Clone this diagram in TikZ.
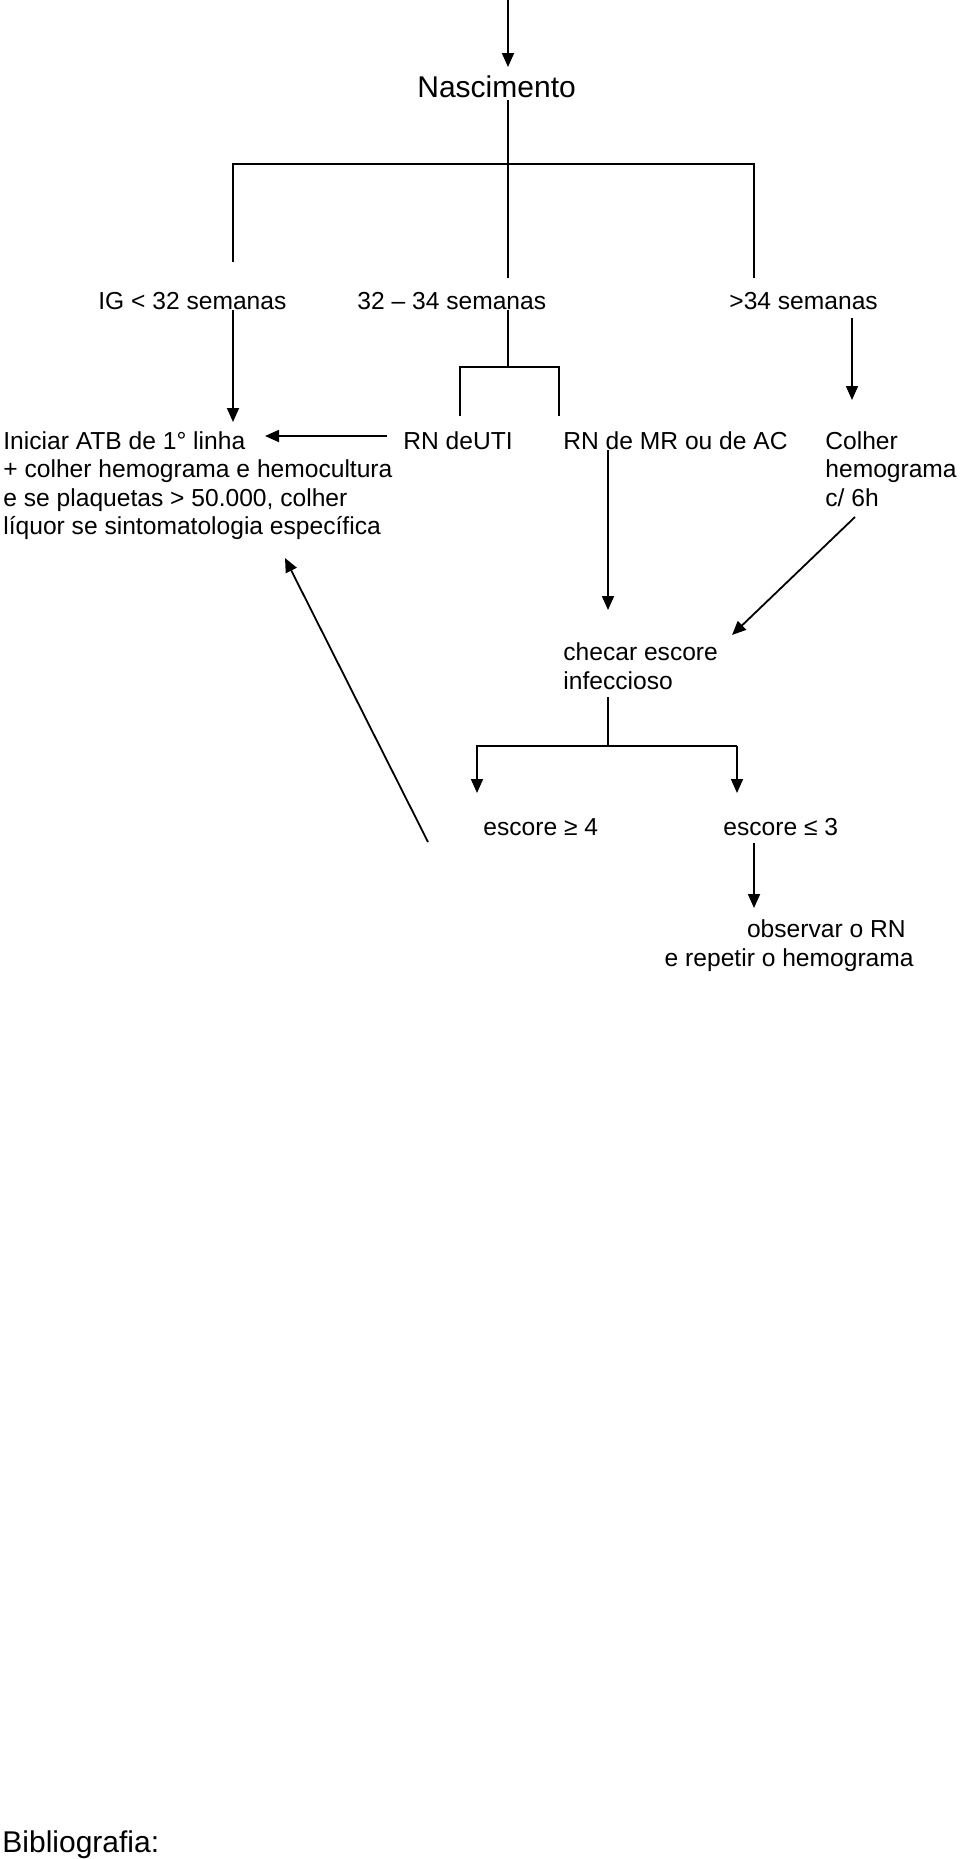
\documentclass[tikz,border=0pt]{standalone}
\usepackage{fontspec}
\setmainfont{Liberation Sans}
\usetikzlibrary{arrows.meta}

\begin{document}
\begin{tikzpicture}[x=0.5pt, y=-0.5pt,
    txt/.style={inner sep=0pt, anchor=base west, align=left, font=\fontsize{12.3}{14.25}\selectfont},
    big/.style={inner sep=0pt, anchor=base west, font=\fontsize{15}{18}\selectfont},
    ln/.style={line width=0.9pt},
    arr/.style={line width=0.9pt, -{Triangle[length=7pt, width=6pt]}}
]
\useasboundingbox (0,0) rectangle (960,1859);

\node[big] (nasc) at (417,97) {Nascimento};
\node[txt] (ig) at (98,309) {IG < 32 semanas};
\node[txt] (mid) at (357,309) {32 – 34 semanas};
\node[txt] (gt) at (729,309) {>34 semanas};
\node[txt] (ini) at (3,534.5) {Iniciar ATB de 1° linha\\+ colher hemograma e hemocultura\\e se plaquetas > 50.000, colher\\líquor se sintomatologia específica};
\node[txt] (uti) at (403,449) {RN deUTI};
\node[txt] (mr) at (563,449) {RN de MR ou de AC};
\node[txt] (colh) at (825,506) {Colher\\hemograma\\c/ 6h};
\node[txt] (chec) at (563,689) {checar escore\\infeccioso};
\node[txt] (ge) at (483,835) {escore ≥ 4};
\node[txt] (le) at (723,835) {escore ≤ 3};
\node[txt, align=right, anchor=base east] (obs) at (914,966) {observar o RN\hspace*{4pt}\\e repetir o hemograma};
\node[big] (bib) at (2,1852) {Bibliografia:};

\coordinate (top) at (508,0);
\coordinate (tipn) at (508,67);
\coordinate (bl) at (233,164);
\coordinate (br) at (754,164);
\coordinate (bm) at (508,367);
\coordinate (ml) at (460,367);
\coordinate (mr0) at (559,367);
\coordinate (tipi) at (233,422);
\coordinate (tipc) at (852,400);
\coordinate (tipu) at (265,436);
\coordinate (tipm) at (608,610);
\coordinate (tipd) at (732,635);
\coordinate (sl) at (477,746);
\coordinate (sr) at (737,746);
\coordinate (tipb) at (285,558);

\draw[arr] (top) -- (tipn);
\draw[ln] (508,100) -- (508,278);
\draw[ln] (233,262) -- (bl) -- (br) -- (754,278);
\draw[arr] (233,310) -- (tipi);
\draw[ln] (508,310) -- (bm);
\draw[ln] (460,416) -- (ml) -- (mr0) -- (559,416);
\draw[arr] (852,318) -- (tipc);
\draw[arr] (387,436) -- (tipu);
\draw[arr] (608,450) -- (tipm);
\draw[arr] (855,517) -- (tipd);
\draw[ln] (608,697) -- (608,746);
\draw[arr] (sl -| sr) -- (sr) -- (737,793);
\draw[arr] (sr) -- (sl) -- (477,793);
\draw[arr] (754,843) -- (754,908);
\draw[arr] (428,842) -- (tipb);
\end{tikzpicture}
\end{document}
